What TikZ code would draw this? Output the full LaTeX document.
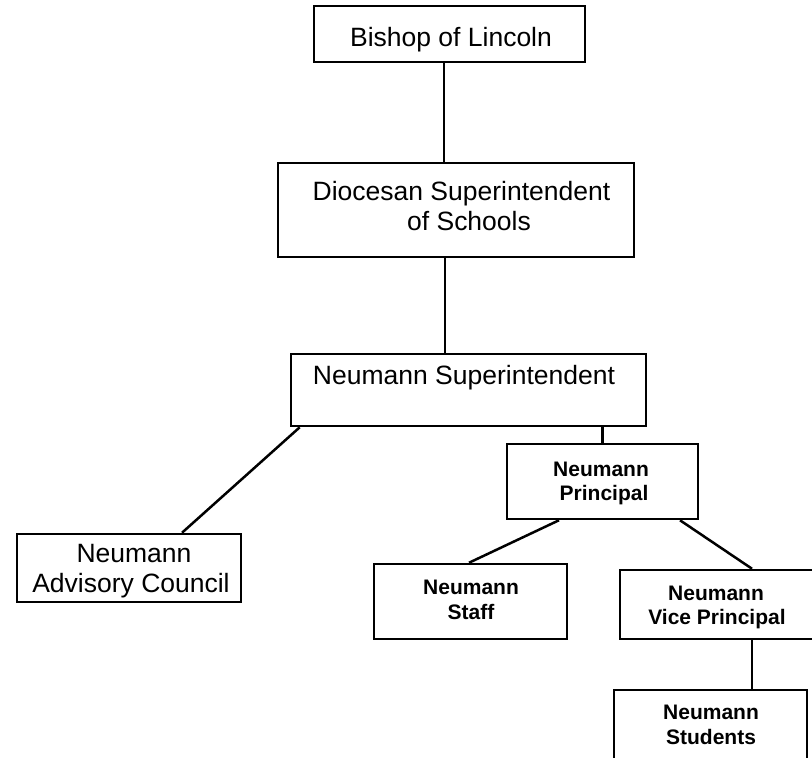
\documentclass[tikz,border=0pt]{standalone}
\usepackage{fontspec}
\setmainfont{Liberation Sans}
\usetikzlibrary{calc}
\begin{document}
\begin{tikzpicture}[x=1pt,y=-1pt,
  box/.style={draw=black, line width=2.5pt, rectangle, inner sep=0pt},
  conn/.style={draw=black, line width=2.5pt},
  reg/.style={anchor=base, inner sep=0pt, font=\fontsize{26.5}{30}\selectfont},
  bld/.style={anchor=base, inner sep=0pt, font=\fontsize{21}{25}\selectfont\bfseries}]
\useasboundingbox (0,0) rectangle (812,758);

% boxes
\node[box, minimum width=271, minimum height=56] (bishop) at (449.5,34) {};
\node[box, minimum width=356, minimum height=94] (dioc) at (456,210) {};
\node[box, minimum width=355, minimum height=72] (sup) at (468.5,390) {};
\node[box, minimum width=191, minimum height=75] (princ) at (602.5,481.5) {};
\node[box, minimum width=224, minimum height=68] (adv) at (129,568) {};
\node[box, minimum width=193, minimum height=75] (staff) at (470.5,601.5) {};
\node[box, minimum width=194, minimum height=69] (vp) at (717,604.5) {};
\node[box, minimum width=193, minimum height=72] (stud) at (710.5,726) {};

% texts
\node[reg] (bishopT) at (451,46.5) {Bishop of Lincoln};
\node[reg] (diocT1) at (461.5,200) {Diocesan Superintendent};
\node[reg] (diocT2) at (469,230) {of Schools};
\node[reg] (supT) at (464,384) {Neumann Superintendent};
\node[reg] (advT1) at (134,562.5) {Neumann};
\node[reg] (advT2) at (131,592) {Advisory Council};
\node[bld] (princT1) at (601,476.5) {Neumann};
\node[bld] (princT2) at (604,500) {Principal};
\node[bld] (staffT1) at (471,594.5) {Neumann};
\node[bld] (staffT2) at (471,619.5) {Staff};
\node[bld] (vpT1) at (716,600.5) {Neumann};
\node[bld] (vpT2) at (717,624.5) {Vice Principal};
\node[bld] (studT1) at (711,719.5) {Neumann};
\node[bld] (studT2) at (711,744.5) {Students};

% connectors
\draw[conn] ([xshift=-5.5pt]bishop.south) -- ([xshift=-5.5pt]bishop.south |- dioc.north);
\draw[conn] ([xshift=-11pt]dioc.south) -- ([xshift=-11pt]dioc.south |- sup.north);
\draw[conn] ([xshift=10pt]sup.south west) -- ([xshift=53pt]adv.north);
\draw[conn] (princ.north |- sup.south) -- (princ.north);
\draw[conn] ([xshift=-43.5pt]princ.south) -- ([xshift=-1.5pt]staff.north);
\draw[conn] ([xshift=77.5pt]princ.south) -- ([xshift=35pt]vp.north);
\draw[conn] ([xshift=35pt]vp.south) -- ([xshift=35pt]vp.south |- stud.north);
\end{tikzpicture}
\end{document}
